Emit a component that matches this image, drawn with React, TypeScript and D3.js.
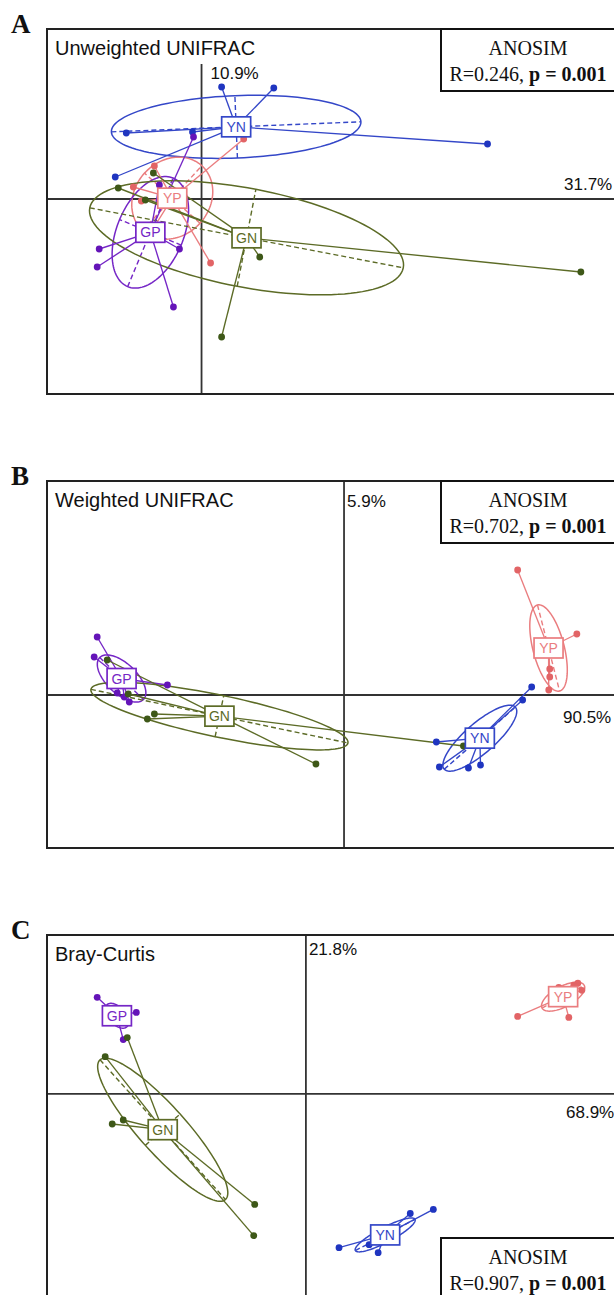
import React from "react";
import * as d3 from "d3";

type Pt = [number, number];

// Group order and colours
const groupNames = ["YN", "YP", "GP", "GN"] as const;
type Group = (typeof groupNames)[number];
const lineColor: Record<Group, string> = { YN: "#3447c8", YP: "#ea7d7f", GP: "#7526c6", GN: "#5c6b26" };
const dotColor: Record<Group, string> = { YN: "#1f35c0", YP: "#e26466", GP: "#6414b8", GN: "#3e5818" };

// PCoA scores (axis 1, axis 2) — unweighted UniFrac
const unwYN: Pt[] = [[0.020, 0.112], [0.072, 0.111], [-0.075, 0.066], [-0.009, 0.067], [0.285, 0.055], [-0.086, 0.022]];
const unwYP: Pt[] = [[-0.047, 0.033], [-0.068, 0.012], [-0.060, -0.002], [0.042, 0.060], [0.009, -0.064], [-0.051, -0.034]];
const unwGP: Pt[] = [[-0.102, -0.050], [-0.104, -0.068], [-0.022, -0.050], [-0.028, -0.108], [-0.042, 0.014], [-0.008, 0.062]];
const unwGN: Pt[] = [[-0.083, 0.011], [-0.048, 0.026], [-0.056, -0.001], [0.058, -0.058], [0.378, -0.073], [0.020, -0.138]];

// PCoA scores — weighted UniFrac
const wYN: Pt[] = [[0.187, 0.008], [0.178, -0.005], [0.092, -0.047], [0.095, -0.072], [0.124, -0.073], [0.136, -0.070]];
const wYP: Pt[] = [[0.173, 0.125], [0.232, 0.061], [0.205, 0.026], [0.205, 0.018], [0.204, 0.005]];
const wGP: Pt[] = [[-0.246, 0.058], [-0.249, 0.038], [-0.176, 0.010], [-0.226, 0.002], [-0.219, -0.002], [-0.214, -0.007]];
const wGN: Pt[] = [[-0.236, 0.035], [-0.189, -0.019], [-0.196, -0.024], [-0.028, -0.069], [0.119, -0.051], [-0.215, 0.001]];

// PCoA scores — Bray-Curtis
const bcYN: Pt[] = [[0.033, -0.153], [0.072, -0.158], [0.104, -0.119], [0.127, -0.115], [0.063, -0.150], [0.075, -0.147]];
const bcYP: Pt[] = [[0.211, 0.077], [0.262, 0.076], [0.271, 0.110], [0.275, 0.103], [0.252, 0.106], [0.267, 0.108]];
const bcGP: Pt[] = [[-0.208, 0.096], [-0.169, 0.081], [-0.182, 0.054], [-0.191, 0.079], [-0.188, 0.080], [-0.192, 0.076]];
const bcGN: Pt[] = [[-0.200, 0.037], [-0.178, 0.056], [-0.182, -0.026], [-0.193, -0.030], [-0.051, -0.110], [-0.052, -0.141]];

// Panel texts
const panelLetters = ["A", "B", "C"];
const panelTitles = ["Unweighted UNIFRAC", "Weighted UNIFRAC", "Bray-Curtis"];
const axis1Labels = ["31.7%", "90.5%", "68.9%"];
const axis2Labels = ["10.9%", "5.9%", "21.8%"];
const anosimR = ["0.246", "0.702", "0.907"];
const anosimP = ["0.001", "0.001", "0.001"];

// Axis limits of each panel (axis 1, axis 2)
const xLimits: [number, number][] = [[-0.154, 0.419], [-0.296, 0.277], [-0.258, 0.315]];
const yLimits: [number, number][] = [[-0.195, 0.170], [-0.153, 0.214], [-0.217, 0.158]];

const panelData: Record<Group, Pt[]>[] = [
  { YN: unwYN, YP: unwYP, GP: unwGP, GN: unwGN },
  { YN: wYN, YP: wYP, GP: wGP, GN: wGN },
  { YN: bcYN, YP: bcYP, GP: bcGP, GN: bcGN },
];

// Page layout of the three panels
const layout = [
  { top: 29, bottom: 394, ax2LabelY: 79, ax1LabelY: 190, ax1LabelX: 564, ax2dx: 9, anosimTop: 29 },
  { top: 481, bottom: 848, ax2LabelY: 507, ax1LabelY: 723, ax1LabelX: 563, ax2dx: 3, anosimTop: 481 },
  { top: 935, bottom: 1312, ax2LabelY: 955, ax1LabelY: 1118, ax1LabelX: 566, ax2dx: 3, anosimTop: 1238 },
];
const LEFT = 47;
const RIGHT = 622;
const ANOSIM_LEFT = 441;

const SANS = "'Liberation Sans', Arial, Helvetica, sans-serif";
const SERIF = "'Liberation Serif', 'Times New Roman', Times, serif";

// Mean and 1-sd covariance ellipse of a group (population covariance)
function groupStats(pts: Pt[]) {
  const n = pts.length;
  const mx = d3.mean(pts, (p) => p[0])!;
  const my = d3.mean(pts, (p) => p[1])!;
  let sxx = 0, syy = 0, sxy = 0;
  for (const [x, y] of pts) {
    sxx += (x - mx) * (x - mx);
    syy += (y - my) * (y - my);
    sxy += (x - mx) * (y - my);
  }
  sxx /= n; syy /= n; sxy /= n;
  const half = (sxx + syy) / 2;
  const disc = Math.sqrt(((sxx - syy) / 2) ** 2 + sxy * sxy);
  const l1 = half + disc;
  const l2 = Math.max(half - disc, 0);
  let v1: Pt;
  if (Math.abs(sxy) > 1e-12) {
    const vx = l1 - syy, vy = sxy;
    const len = Math.hypot(vx, vy);
    v1 = [vx / len, vy / len];
  } else {
    v1 = sxx >= syy ? [1, 0] : [0, 1];
  }
  const v2: Pt = [-v1[1], v1[0]];
  return { mx, my, a: Math.sqrt(l1), b: Math.sqrt(l2), v1, v2 };
}

function Panel({ idx }: { idx: number }) {
  const L = layout[idx];
  const data = panelData[idx];
  const x = d3.scaleLinear().domain(xLimits[idx]).range([LEFT, RIGHT]);
  const y = d3.scaleLinear().domain(yLimits[idx]).range([L.bottom, L.top]);
  const x0 = x(0);
  const y0 = y(0);
  const line = d3.line<Pt>().x((d) => x(d[0])).y((d) => y(d[1])).curve(d3.curveLinearClosed);

  const stats = groupNames.map((g) => ({ g, s: groupStats(data[g]), pts: data[g] }));
  const titleW = panelTitles[idx].length * 11.6 + 12;

  return (
    <g>
      <text x={11} y={L.top + 4} fontFamily={SERIF} fontWeight="bold" fontSize={27} fill="#111">
        {panelLetters[idx]}
      </text>
      <clipPath id={`clip${idx}`}>
        <rect x={LEFT} y={L.top} width={RIGHT - LEFT} height={L.bottom - L.top} />
      </clipPath>
      <g clipPath={`url(#clip${idx})`}>
        {/* axes through the origin */}
        <line x1={LEFT} x2={RIGHT} y1={y0} y2={y0} stroke="#333" strokeWidth={1.8} />
        <line x1={x0} x2={x0} y1={L.top} y2={L.bottom} stroke="#333" strokeWidth={1.8} />

        {/* ellipses with their dashed principal axes */}
        {stats.map(({ g, s }) => {
          const ring: Pt[] = d3.range(0, 2 * Math.PI, Math.PI / 60).map((t) => [
            s.mx + Math.cos(t) * s.a * s.v1[0] + Math.sin(t) * s.b * s.v2[0],
            s.my + Math.cos(t) * s.a * s.v1[1] + Math.sin(t) * s.b * s.v2[1],
          ]);
          return (
            <g key={`e${g}`} stroke={lineColor[g]} fill="none">
              <path d={line(ring)!} strokeWidth={1.5} />
              <line x1={x(s.mx - s.a * s.v1[0])} y1={y(s.my - s.a * s.v1[1])} x2={x(s.mx + s.a * s.v1[0])} y2={y(s.my + s.a * s.v1[1])} strokeWidth={1.4} strokeDasharray="5,3" />
              <line x1={x(s.mx - s.b * s.v2[0])} y1={y(s.my - s.b * s.v2[1])} x2={x(s.mx + s.b * s.v2[0])} y2={y(s.my + s.b * s.v2[1])} strokeWidth={1.4} strokeDasharray="5,3" />
            </g>
          );
        })}

        {/* star segments from each sample to its group centroid */}
        {stats.map(({ g, s, pts }) => (
          <g key={`s${g}`} stroke={lineColor[g]} strokeWidth={1.35}>
            {pts.map((p, i) => (
              <line key={i} x1={x(p[0])} y1={y(p[1])} x2={x(s.mx)} y2={y(s.my)} />
            ))}
          </g>
        ))}

        {/* samples */}
        {stats.map(({ g, pts }) => (
          <g key={`p${g}`} fill={dotColor[g]}>
            {pts.map((p, i) => (
              <circle key={i} cx={x(p[0])} cy={y(p[1])} r={3.4} />
            ))}
          </g>
        ))}

        {/* group labels at the centroids */}
        {stats.map(({ g, s }) => (
          <g key={`l${g}`} transform={`translate(${x(s.mx)},${y(s.my)})`}>
            <rect x={-14.5} y={-10} width={29} height={20} fill="#fff" stroke={lineColor[g]} strokeWidth={1.7} />
            <text textAnchor="middle" dy="0.36em" fontFamily={SANS} fontSize={14} fill={lineColor[g]}>
              {g}
            </text>
          </g>
        ))}

        {/* title with its white background */}
        <rect x={LEFT} y={L.top} width={titleW} height={35} fill="#fff" />
        <text x={LEFT + 8} y={L.top + 26} fontFamily={SANS} fontSize={20} fill="#111">
          {panelTitles[idx]}
        </text>

        {/* eigenvalue shares */}
        <text x={x0 + L.ax2dx} y={L.ax2LabelY} fontFamily={SANS} fontSize={17} fill="#111">
          {axis2Labels[idx]}
        </text>
        <text x={L.ax1LabelX} y={L.ax1LabelY} fontFamily={SANS} fontSize={17} fill="#111">
          {axis1Labels[idx]}
        </text>
      </g>

      {/* frame */}
      <rect x={LEFT} y={L.top} width={RIGHT - LEFT} height={L.bottom - L.top} fill="none" stroke="#222" strokeWidth={2} />

      {/* ANOSIM result */}
      <rect x={ANOSIM_LEFT} y={L.anosimTop} width={RIGHT - ANOSIM_LEFT} height={62} fill="#fff" stroke="#111" strokeWidth={2} />
      <text x={(ANOSIM_LEFT + 615) / 2} y={L.anosimTop + 26} textAnchor="middle" fontFamily={SERIF} fontSize={20} fill="#111">
        ANOSIM
      </text>
      <text x={(ANOSIM_LEFT + 615) / 2} y={L.anosimTop + 52} textAnchor="middle" fontFamily={SERIF} fontSize={20} fill="#111">
        <tspan>{`R=${anosimR[idx]}, `}</tspan>
        <tspan fontWeight="bold">{`p = ${anosimP[idx]}`}</tspan>
      </text>
    </g>
  );
}

export default function App() {
  return (
    <svg
      width={614}
      height={1295}
      viewBox="0 0 614 1295"
      style={{ position: "absolute", left: 0, top: 0, background: "#fff" }}
    >
      <rect width={614} height={1295} fill="#fff" />
      {[0, 1, 2].map((i) => (
        <Panel key={i} idx={i} />
      ))}
    </svg>
  );
}
